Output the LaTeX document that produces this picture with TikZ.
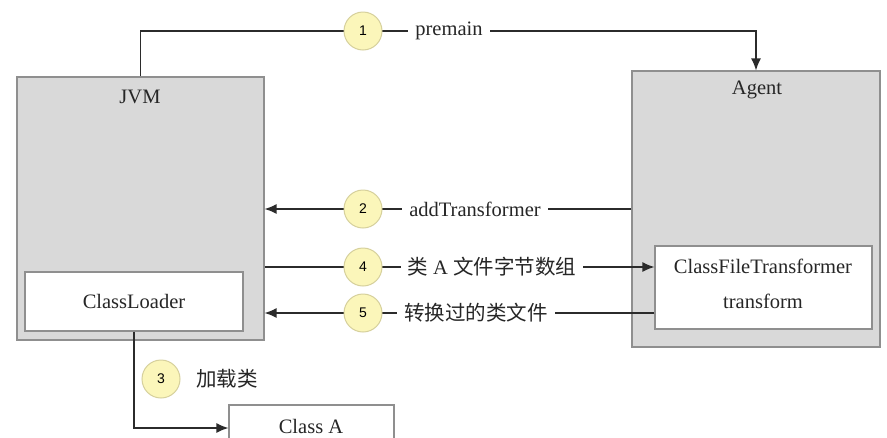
\documentclass[tikz,border=0pt]{standalone}
\usepackage{fontspec}
\setmainfont{Liberation Serif}
\newfontfamily\cjk{Noto Sans CJK SC}
\newfontfamily\numfont{Liberation Sans}
\usetikzlibrary{arrows.meta,calc}
\definecolor{boxgray}{HTML}{D9D9D9}
\definecolor{edgegray}{HTML}{8F8F8F}
\definecolor{circfill}{HTML}{FBF6BA}
\definecolor{circedge}{HTML}{D6D09C}
\definecolor{linecol}{HTML}{2B2B2B}
\begin{document}
\begin{tikzpicture}[x=1pt,y=-1pt,
  outerbox/.style={draw=edgegray, fill=boxgray, line width=1.2pt, inner sep=0},
  innerbox/.style={draw=edgegray, fill=white, line width=1.2pt, inner sep=0},
  lbl/.style={font=\fontsize{20.5}{24}\selectfont, inner sep=0, text=black!85},
  num/.style={circle, draw=circedge, fill=circfill, line width=1pt, minimum size=38pt, inner sep=0, font=\numfont\fontsize{14}{16}\selectfont},
  conn/.style={draw=linecol, line width=1.3pt},
  arr/.style={conn, -{Latex[length=12pt,width=10pt]}},
  onlbl/.style={lbl, fill=white, inner xsep=7pt, inner ysep=3pt}
]
\clip (0,0) rectangle (887,437);
\fill[white] (0,0) rectangle (887,437);

% boxes
\node[outerbox, minimum width=247pt, minimum height=263pt] (jvm) at (140.5,208.5) {};
\node[outerbox, minimum width=248pt, minimum height=276pt] (agent) at (756,209) {};
\node[innerbox, minimum width=218pt, minimum height=59pt] (cl) at (134,301.5) {};
\node[innerbox, minimum width=217pt, minimum height=83pt] (cft) at (763.5,287.5) {};
\node[innerbox, minimum width=165pt, minimum height=46pt] (classa) at (311.5,428) {};

% box texts
\node[lbl] (tjvm) at (140,97) {JVM};
\node[lbl] (tagent) at (757,90) {Agent};
\node[lbl] (tcl) at (134,301) {ClassLoader};
\node[lbl] (tcft1) at (763,266) {ClassFileTransformer};
\node[lbl] (tcft2) at (763,301) {transform};
\node[lbl] (tclassa) at (311,426) {Class A};

% anchor points of the numbered steps
\coordinate (k1) at (363,31);
\coordinate (k2) at (363,209);
\coordinate (k3) at (161,379);
\coordinate (k4) at (363,267);
\coordinate (k5) at (363,313);

% connectors
\draw[arr] (jvm.north) |- (k1) -| (agent.north);
\draw[arr] (agent.west |- k2) -- (jvm.east |- k2);
\draw[arr] (jvm.east |- k4) -- (cft.west |- k4);
\draw[arr] (cft.west |- k5) -- (jvm.east |- k5);
\draw[arr] (cl.south) |- (classa.west);

% step labels
\node[onlbl] (l1) at (449,31) {premain};
\node[onlbl] (l2) at (475,209) {addTransformer};
\node[onlbl] (l4) at (492,267) {\cjk 类\ \rmfamily A\ \cjk 文件字节数组};
\node[onlbl] (l5) at (476,313) {\cjk 转换过的类文件};
\node[lbl] (l3) at (227,379) {\cjk 加载类};

% numbered circles
\node[num] (c1) at (k1) {1};
\node[num] (c2) at (k2) {2};
\node[num] (c3) at (k3) {3};
\node[num] (c4) at (k4) {4};
\node[num] (c5) at (k5) {5};
\end{tikzpicture}
\end{document}
